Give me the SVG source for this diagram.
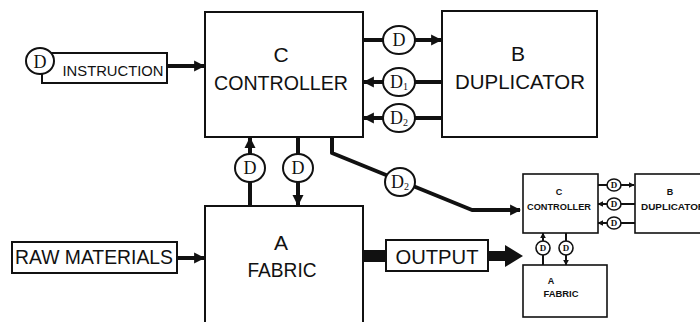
<svg xmlns="http://www.w3.org/2000/svg" width="700" height="322" viewBox="0 0 700 322">
<style>
.box{fill:#fff;stroke:#111;stroke-width:2}
.sbox{fill:#fff;stroke:#111;stroke-width:1.6}
.lbl{font-family:"Liberation Sans",Arial,sans-serif;fill:#111;text-anchor:middle}
.big{font-size:21px}
.sm{font-size:9px;font-weight:bold}
.d{font-family:"Liberation Serif","Times New Roman",serif;fill:#111;text-anchor:middle;font-size:18px}
.ds{font-family:"Liberation Serif","Times New Roman",serif;fill:#111;text-anchor:middle;font-size:9px;font-weight:bold}
.dc{fill:#fff;stroke:#111;stroke-width:2}
.dcs{fill:#fff;stroke:#111;stroke-width:1.6}
.ln{fill:none;stroke:#111;stroke-width:4}
.lns{fill:none;stroke:#111;stroke-width:2}
</style>
<defs>
<marker id="ah" viewBox="0 0 10 10" refX="9" refY="5" markerWidth="11" markerHeight="12" markerUnits="userSpaceOnUse" orient="auto"><path d="M0,0 L10,5 L0,10 z" fill="#111"/></marker>
<marker id="ahs" viewBox="0 0 10 10" refX="9" refY="5" markerWidth="6" markerHeight="6" markerUnits="userSpaceOnUse" orient="auto"><path d="M0,0 L10,5 L0,10 z" fill="#111"/></marker>
</defs>

<g id="connectors">
  <line class="ln" x1="167" y1="66" x2="204" y2="66" marker-end="url(#ah)"/>
  <line class="ln" x1="363" y1="40" x2="441" y2="40" marker-end="url(#ah)"/>
  <line class="ln" x1="442" y1="82" x2="364" y2="82" marker-end="url(#ah)"/>
  <line class="ln" x1="442" y1="118" x2="364" y2="118" marker-end="url(#ah)"/>
  <line class="ln" x1="250" y1="206" x2="250" y2="138" marker-end="url(#ah)"/>
  <line class="ln" x1="298" y1="137" x2="298" y2="205" marker-end="url(#ah)"/>
  <polyline class="ln" points="332,137 332,153 472,210 520,210" stroke-linejoin="round" marker-end="url(#ah)"/>
  <line class="ln" x1="177" y1="258" x2="204" y2="258" stroke-width="5" marker-end="url(#ah)"/>
  <line x1="363" y1="256" x2="386" y2="256" stroke="#111" stroke-width="12"/>
  <line x1="488" y1="256" x2="506" y2="256" stroke="#111" stroke-width="10"/>
  <polygon points="505,245 523,256 505,267" fill="#111"/>
  <!-- small diagram -->
  <line class="lns" x1="598" y1="185" x2="634" y2="185" marker-end="url(#ahs)"/>
  <line class="lns" x1="635" y1="204" x2="598" y2="204" marker-end="url(#ahs)"/>
  <line class="lns" x1="635" y1="223" x2="598" y2="223" marker-end="url(#ahs)"/>
  <line class="lns" x1="543" y1="265" x2="543" y2="233" marker-end="url(#ahs)"/>
  <line class="lns" x1="566" y1="233" x2="566" y2="265" marker-end="url(#ahs)"/>
</g>

<g id="controller">
  <rect class="box" x="205" y="12" width="158" height="125"/>
  <text class="lbl big" x="281" y="62">C</text>
  <text class="lbl big" x="281" y="90" textLength="134" lengthAdjust="spacingAndGlyphs">CONTROLLER</text>
</g>
<g id="duplicator">
  <rect class="box" x="442" y="11" width="155" height="126"/>
  <text class="lbl big" x="518" y="61">B</text>
  <text class="lbl big" x="520" y="89" textLength="130" lengthAdjust="spacingAndGlyphs">DUPLICATOR</text>
</g>
<g id="fabric">
  <rect class="box" x="205" y="206" width="158" height="130"/>
  <text class="lbl big" x="281" y="250">A</text>
  <text class="lbl big" x="282" y="277" textLength="69" lengthAdjust="spacingAndGlyphs">FABRIC</text>
</g>
<g id="instruction">
  <rect class="box" x="42" y="53" width="125" height="30"/>
  <ellipse class="dc" cx="40" cy="61" rx="14" ry="13"/>
  <text class="d" x="40" y="68">D</text>
  <text class="lbl" x="113" y="76" font-size="14" textLength="101" lengthAdjust="spacingAndGlyphs">INSTRUCTION</text>
</g>
<g id="raw-materials">
  <rect class="box" x="12" y="242" width="165" height="31"/>
  <text class="lbl big" x="94" y="264" textLength="158" lengthAdjust="spacingAndGlyphs">RAW MATERIALS</text>
</g>
<g id="output">
  <rect class="box" x="386" y="240" width="102" height="31"/>
  <text class="lbl big" x="437" y="264" textLength="83" lengthAdjust="spacingAndGlyphs">OUTPUT</text>
</g>

<g id="d-c-b">
  <ellipse class="dc" cx="399" cy="40" rx="16" ry="14"/>
  <text class="d" x="399" y="46">D</text>
</g>
<g id="d1-b-c">
  <ellipse class="dc" cx="399" cy="82" rx="16" ry="14"/>
  <text class="d" x="399" y="88">D<tspan font-size="10" dy="2">1</tspan></text>
</g>
<g id="d2-b-c">
  <ellipse class="dc" cx="399" cy="118" rx="16" ry="14"/>
  <text class="d" x="399" y="124">D<tspan font-size="10" dy="2">2</tspan></text>
</g>
<g id="d-fabric-c">
  <ellipse class="dc" cx="250" cy="168" rx="15" ry="14"/>
  <text class="d" x="250" y="174">D</text>
</g>
<g id="d-c-fabric">
  <ellipse class="dc" cx="298" cy="168" rx="15" ry="14"/>
  <text class="d" x="298" y="174">D</text>
</g>
<g id="d2-output">
  <ellipse class="dc" cx="400" cy="182" rx="15" ry="14"/>
  <text class="d" x="400" y="188">D<tspan font-size="10" dy="2">2</tspan></text>
</g>

<g id="small-controller">
  <rect class="sbox" x="523" y="174" width="75" height="59"/>
  <text class="lbl sm" x="559" y="195">C</text>
  <text class="lbl sm" x="559" y="210" textLength="64" lengthAdjust="spacingAndGlyphs">CONTROLLER</text>
</g>
<g id="small-duplicator">
  <rect class="sbox" x="635" y="174" width="80" height="59"/>
  <text class="lbl sm" x="670" y="195">B</text>
  <text class="lbl sm" x="673" y="210" textLength="64" lengthAdjust="spacingAndGlyphs">DUPLICATOR</text>
</g>
<g id="small-fabric">
  <rect class="sbox" x="523" y="265" width="84" height="52"/>
  <text class="lbl sm" x="551" y="284">A</text>
  <text class="lbl sm" x="561" y="297" textLength="35" lengthAdjust="spacingAndGlyphs">FABRIC</text>
</g>
<g id="small-d">
  <ellipse class="dcs" cx="614" cy="185" rx="7" ry="6"/>
  <text class="ds" x="614" y="188">D</text>
  <ellipse class="dcs" cx="614" cy="204" rx="7" ry="6"/>
  <text class="ds" x="614" y="207">D</text>
  <ellipse class="dcs" cx="614" cy="223" rx="7" ry="6"/>
  <text class="ds" x="614" y="226">D</text>
  <ellipse class="dcs" cx="543" cy="248" rx="7" ry="7"/>
  <text class="ds" x="543" y="251">D</text>
  <ellipse class="dcs" cx="566" cy="248" rx="7" ry="7"/>
  <text class="ds" x="566" y="251">D</text>
</g>
</svg>
